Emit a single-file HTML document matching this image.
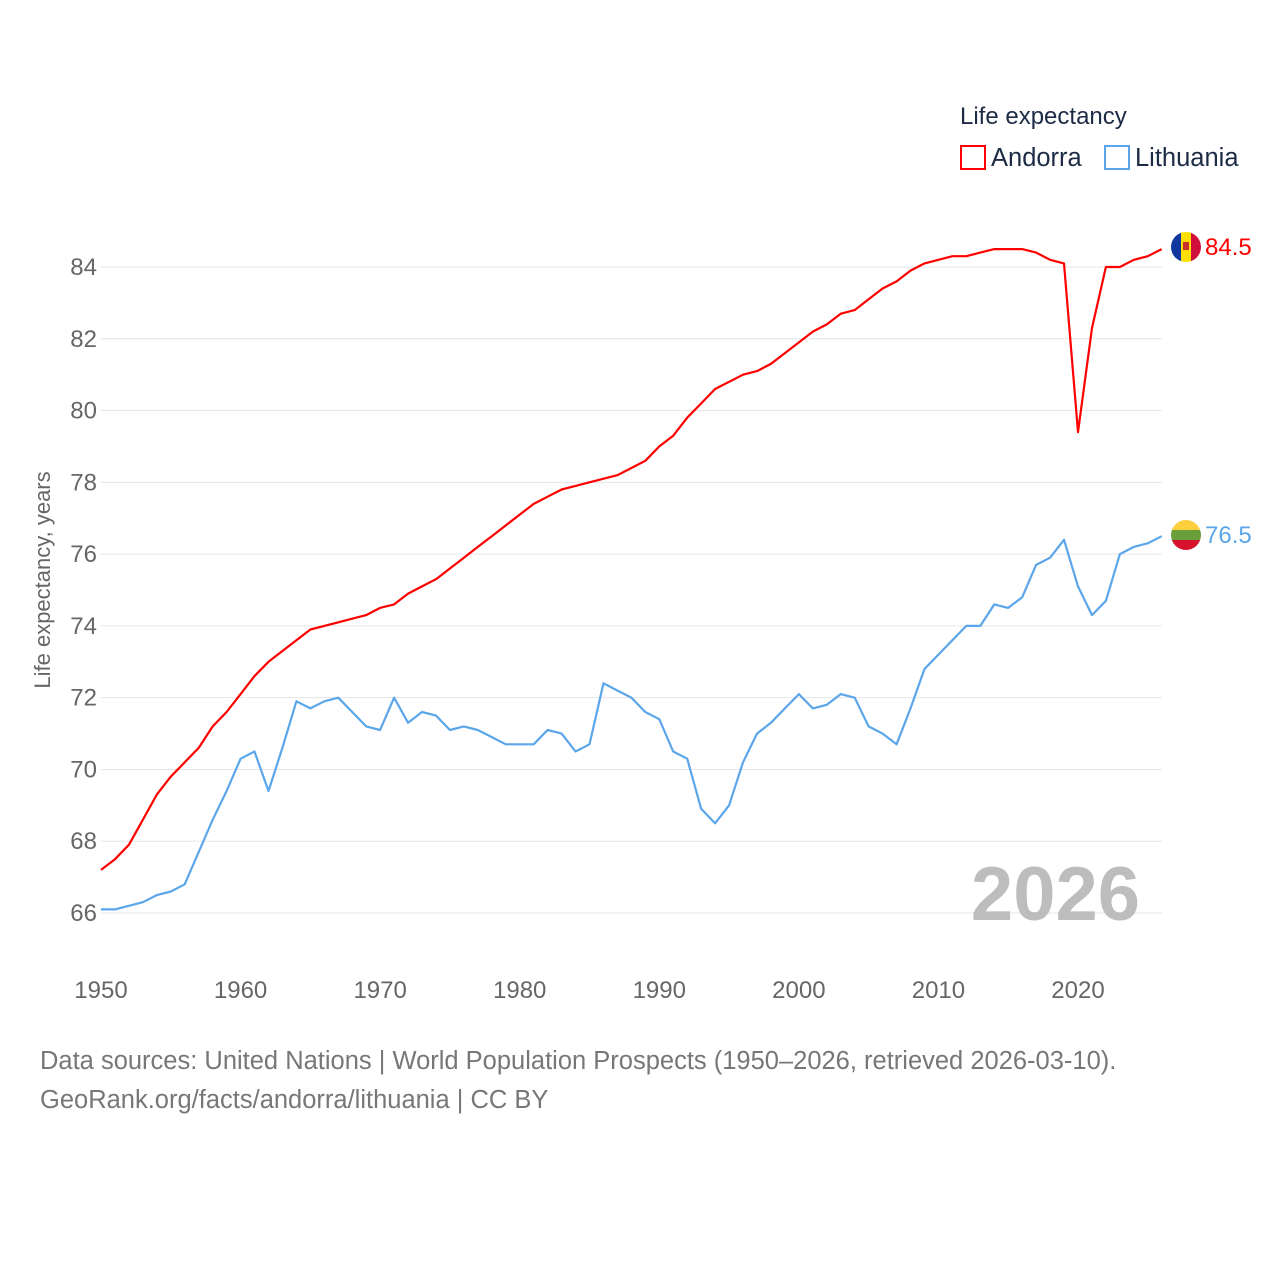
<!DOCTYPE html>
<html><head><meta charset="utf-8"><style>
body{margin:0;background:#fff;width:1280px;height:1280px;overflow:hidden;font-family:"Liberation Sans",sans-serif}
</style></head><body>
<svg id="chart" width="1280" height="1280" xmlns="http://www.w3.org/2000/svg" style="font-family:'Liberation Sans',sans-serif">
<text x="960" y="124" font-size="24" fill="#1d2b45">Life expectancy</text>
<g><rect x="961" y="146" width="24" height="23" fill="none" stroke="#ff0000" stroke-width="2"/><text x="991" y="166" font-size="25.5" fill="#1d2b45">Andorra</text></g>
<g><rect x="1105" y="146" width="24" height="23" fill="none" stroke="#5ba6ea" stroke-width="2"/><text x="1135" y="166" font-size="25.5" fill="#1d2b45">Lithuania</text></g>
<g id="grid"></g><g id="yt"></g><g id="xt"></g>
<text transform="translate(50,580) rotate(-90)" text-anchor="middle" font-size="22" fill="#666">Life expectancy, years</text>
<text x="1140" y="920" text-anchor="end" font-size="76" font-weight="bold" fill="#bdbdbd">2026</text>
<g id="lines"></g>
<g><clipPath id="c1"><circle cx="1186" cy="247" r="15"/></clipPath><g clip-path="url(#c1)"><rect x="1171" y="232" width="10" height="30" fill="#10379e"/><rect x="1181" y="232" width="10" height="30" fill="#fedf00"/><rect x="1191" y="232" width="10" height="30" fill="#d0103a"/><rect x="1183" y="242" width="6" height="8" fill="#c7302a"/></g></g>
<text x="1205" y="255" font-size="24" fill="#ff0000">84.5</text>
<g><clipPath id="c2"><circle cx="1186" cy="535" r="15"/></clipPath><g clip-path="url(#c2)"><rect x="1171" y="520" width="30" height="10" fill="#fdcf3e"/><rect x="1171" y="530" width="30" height="10" fill="#6a9e3b"/><rect x="1171" y="540" width="30" height="10" fill="#d5112c"/></g></g>
<text x="1205" y="543" font-size="24" fill="#5ba6ea">76.5</text>
<text x="40" y="1069" font-size="25.5" fill="#777">Data sources: United Nations | World Population Prospects (1950–2026, retrieved 2026-03-10).</text>
<text x="40" y="1108" font-size="25.5" fill="#777">GeoRank.org/facts/andorra/lithuania | CC BY</text>
</svg>
<script>
const years=[];for(let y=1950;y<=2026;y++)years.push(y);
const andorra=[67.2,67.5,67.9,68.6,69.3,69.8,70.2,70.6,71.2,71.6,72.1,72.6,73.0,73.3,73.6,73.9,74.0,74.1,74.2,74.3,74.5,74.6,74.9,75.1,75.3,75.6,75.9,76.2,76.5,76.8,77.1,77.4,77.6,77.8,77.9,78.0,78.1,78.2,78.4,78.6,79.0,79.3,79.8,80.2,80.6,80.8,81.0,81.1,81.3,81.6,81.9,82.2,82.4,82.7,82.8,83.1,83.4,83.6,83.9,84.1,84.2,84.3,84.3,84.4,84.5,84.5,84.5,84.4,84.2,84.1,79.4,82.3,84.0,84.0,84.2,84.3,84.5];
const lithuania=[66.1,66.1,66.2,66.3,66.5,66.6,66.8,67.7,68.6,69.4,70.3,70.5,69.4,70.6,71.9,71.7,71.9,72.0,71.6,71.2,71.1,72.0,71.3,71.6,71.5,71.1,71.2,71.1,70.9,70.7,70.7,70.7,71.1,71.0,70.5,70.7,72.4,72.2,72.0,71.6,71.4,70.5,70.3,68.9,68.5,69.0,70.2,71.0,71.3,71.7,72.1,71.7,71.8,72.1,72.0,71.2,71.0,70.7,71.7,72.8,73.2,73.6,74.0,74.0,74.6,74.5,74.8,75.7,75.9,76.4,75.1,74.3,74.7,76.0,76.2,76.3,76.5];
const yTicks=[66,68,70,72,74,76,78,80,82,84];
const xTicks=[1950,1960,1970,1980,1990,2000,2010,2020];
const NS='http://www.w3.org/2000/svg';
const xS=v=>101+(v-1950)*(977/70);
const yS=v=>913-(v-66)*(646/18);
function mk(t,a,p){const e=document.createElementNS(NS,t);for(const k in a)e.setAttribute(k,a[k]);p.appendChild(e);return e;}
const grid=document.getElementById('grid'),yt=document.getElementById('yt'),xt=document.getElementById('xt'),lines=document.getElementById('lines');
yTicks.forEach(v=>{
 const l=mk('line',{x1:101,x2:1162,y1:yS(v),y2:yS(v),stroke:'#e6e6e6','stroke-width':1},grid);
 
 
 const t=mk('text',{x:97,y:yS(v)+8,'text-anchor':'end','font-size':24,fill:'#666'},yt);t.textContent=v;
 
 
});
xTicks.forEach(v=>{
 const t=mk('text',{x:xS(v),y:998,'text-anchor':'middle','font-size':24,fill:'#666'},xt);t.textContent=v;
 
 
});
function line(vals,color,name){
 const d=vals.map((v,i)=>(i?'L':'M')+xS(years[i]).toFixed(1)+','+yS(v).toFixed(1)).join('');
 const p=mk('path',{d:d,fill:'none',stroke:color,'stroke-width':2.2,'stroke-linejoin':'round'},lines);
 
 
}
line(lithuania,'#5ba6ea','lithuania-line');
line(andorra,'#ff0000','andorra-line');
</script>
</body></html>
